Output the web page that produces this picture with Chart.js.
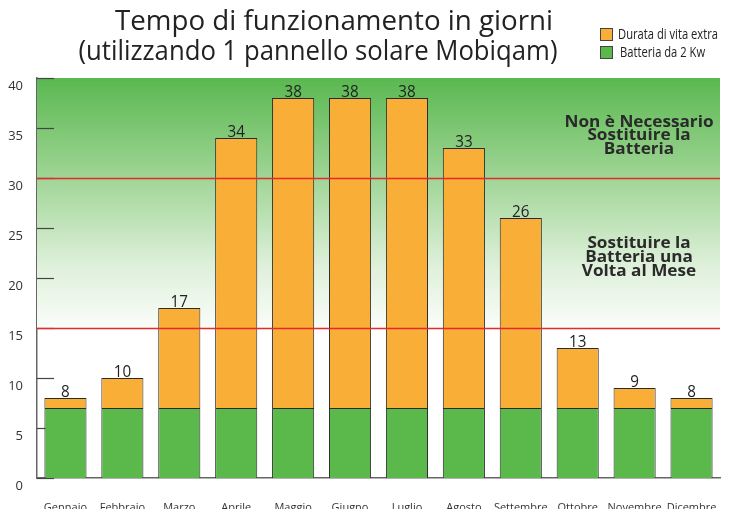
<!DOCTYPE html>
<html>
<head>
<meta charset="utf-8">
<script src="https://cdn.jsdelivr.net/npm/chart.js@4"></script>
<style>
  html, body { margin: 0; padding: 0; background: #fff; }
  #wrap { width: 732px; height: 509px; }
</style>
</head>
<body>
<div id="wrap"><canvas id="grafico" width="732" height="509"></canvas></div>
<script>
const mesi = ["Gennaio", "Febbraio", "Marzo", "Aprile", "Maggio", "Giugno", "Luglio", "Agosto", "Settembre", "Ottobre", "Novembre", "Dicembre"];
const batteria = [7, 7, 7, 7, 7, 7, 7, 7, 7, 7, 7, 7];
const extra = [1, 3, 10, 27, 31, 31, 31, 26, 19, 6, 2, 1];
const totali = [8, 10, 17, 34, 38, 38, 38, 33, 26, 13, 9, 8];
const soglie = [30, 15];
const titolo = ["Tempo di funzionamento in giorni", "(utilizzando 1 pannello solare Mobiqam)"];
const noteAlta = ["Non è Necessario", "Sostituire la", "Batteria"];
const noteBassa = ["Sostituire la", "Batteria una", "Volta al Mese"];

const arancio = "#F9AE37";
const verde = "#5AB94A";

// scrive un testo stretto o allargato in orizzontale
function testoScalato(ctx, testo, cx, cy, sx) {
  ctx.save();
  ctx.translate(cx, cy);
  ctx.scale(sx, 1);
  ctx.fillText(testo, 0, 0);
  ctx.restore();
}

const decorazioni = {
  id: "decorazioni",
  beforeDatasetsDraw(chart) {
    const { ctx, chartArea: a, scales: { y } } = chart;
    ctx.save();
    // sfondo verde sfumato fino alla soglia bassa
    const yBasso = y.getPixelForValue(soglie[1]);
    const g = ctx.createLinearGradient(0, a.top, 0, yBasso);
    g.addColorStop(0, "rgb(90,184,80)");
    g.addColorStop(0.4, "rgb(160,213,150)");
    g.addColorStop(0.75, "rgb(222,240,218)");
    g.addColorStop(1, "rgb(250,253,249)");
    ctx.fillStyle = g;
    ctx.fillRect(a.left, a.top, a.right - a.left, yBasso - a.top);

    // tacche interne dell'asse y
    ctx.strokeStyle = "#444";
    ctx.lineWidth = 1.2;
    y.ticks.forEach(t => {
      const py = Math.round(y.getPixelForValue(t.value)) + 0.5;
      ctx.beginPath();
      ctx.moveTo(a.left, py);
      ctx.lineTo(a.left + 17, py);
      ctx.stroke();
    });

    ctx.font = "bold 16px 'Open Sans'";
    ctx.fillStyle = "#2a2a2a";
    ctx.textAlign = "center";
    ctx.textBaseline = "middle";
    const sx = 149 / ctx.measureText(noteAlta[0]).width;
    noteAlta.forEach((t, i) => testoScalato(ctx, t, 639, 122 + i * 13.5, sx));
    noteBassa.forEach((t, i) => testoScalato(ctx, t, 639, 243 + i * 14, sx));
    ctx.restore();
  },
  afterDatasetsDraw(chart) {
    const { ctx, chartArea: a, scales: { x, y } } = chart;
    ctx.save();
    ctx.strokeStyle = "#E8292B";
    ctx.lineWidth = 1.5;
    soglie.forEach(v => {
      const py = Math.round(y.getPixelForValue(v)) + 0.5;
      ctx.beginPath();
      ctx.moveTo(a.left, py);
      ctx.lineTo(a.right, py);
      ctx.stroke();
    });

    ctx.font = "16px 'Open Sans'";
    ctx.fillStyle = "#222";
    ctx.textAlign = "center";
    ctx.textBaseline = "bottom";
    totali.forEach((v, i) => {
      testoScalato(ctx, String(v), x.getPixelForValue(i), y.getPixelForValue(v) + 2, 0.95);
    });

    // titolo
    ctx.font = "27px 'Open Sans'";
    ctx.fillStyle = "#222";
    ctx.textBaseline = "middle";
    testoScalato(ctx, titolo[0], 334, 22, 438 / ctx.measureText(titolo[0]).width);
    testoScalato(ctx, titolo[1], 318, 52, 479 / ctx.measureText(titolo[1]).width);

    // legenda
    ctx.textAlign = "left";
    ctx.font = "14px 'Open Sans'";
    const sl = 100 / ctx.measureText("Durata di vita extra").width;
    const voci = [[arancio, "Durata di vita extra"], [verde, "Batteria da 2 Kw"]];
    voci.forEach((v, i) => {
      const by = 28 + i * 18;
      ctx.fillStyle = v[0];
      ctx.fillRect(600, by, 13, 13);
      ctx.strokeStyle = "#444";
      ctx.lineWidth = 1;
      ctx.strokeRect(600.5, by + 0.5, 12, 12);
      ctx.fillStyle = "#222";
      testoScalato(ctx, v[1], i === 0 ? 618 : 620, by + 7, sl);
    });
    ctx.restore();
  }
};

new Chart(document.getElementById("grafico"), {
  type: "bar",
  data: {
    labels: mesi,
    datasets: [
      {
        label: "Batteria da 2 Kw",
        data: batteria,
        backgroundColor: verde,
        borderColor: "#2b2b2b",
        borderWidth: 1,
        barPercentage: 0.74,
        categoryPercentage: 1
      },
      {
        label: "Durata di vita extra",
        data: extra,
        backgroundColor: arancio,
        borderColor: "#2b2b2b",
        borderWidth: 1,
        barPercentage: 0.74,
        categoryPercentage: 1
      }
    ]
  },
  options: {
    responsive: false,
    animation: false,
    layout: { padding: { top: 78, right: 12, left: 0, bottom: 0 } },
    plugins: {
      legend: { display: false },
      title: { display: false },
      tooltip: { enabled: false }
    },
    scales: {
      x: {
        stacked: true,
        grid: { display: false },
        border: { color: "#666", width: 1.5 },
        ticks: { color: "#333", font: { size: 11, family: "'Open Sans'" }, padding: 15, maxRotation: 0, autoSkip: false },
        afterFit: s => { s.height = 31; }
      },
      y: {
        stacked: true,
        min: 0,
        max: 40,
        grid: { display: false },
        border: { color: "#666", width: 1.5 },
        ticks: { stepSize: 5, color: "#333", font: { size: 13, family: "'Open Sans'" }, labelOffset: 8, padding: 6 },
        afterFit: s => { s.width = 37; }
      }
    }
  },
  plugins: [decorazioni]
});
</script>
</body>
</html>
